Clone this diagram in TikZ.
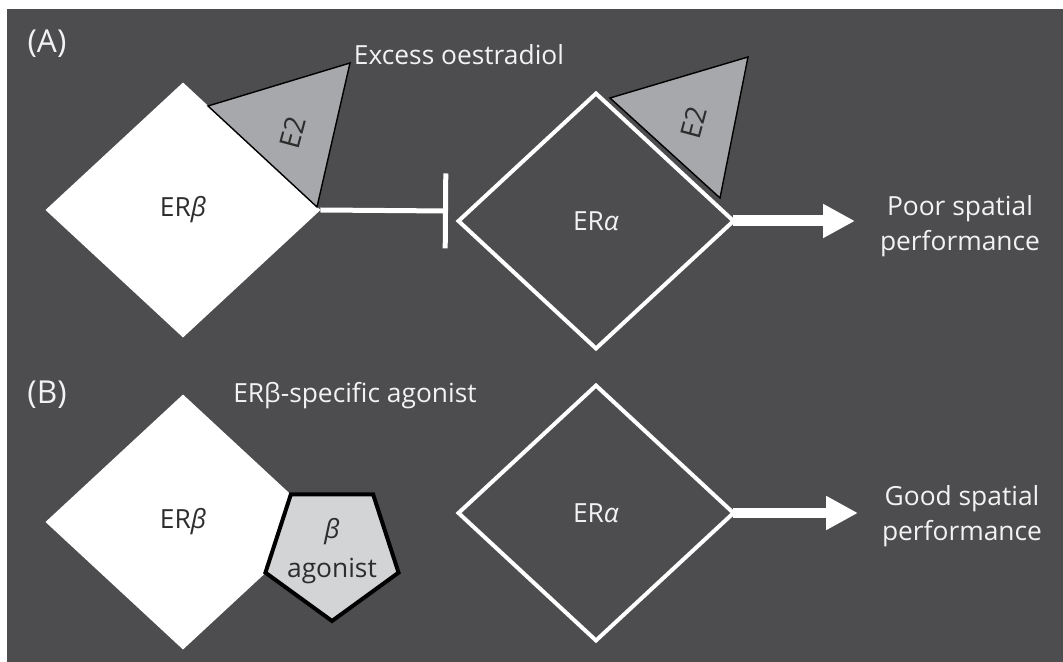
\documentclass[tikz,border=0pt]{standalone}
\usepackage{fontspec}
\setmainfont{Open Sans}
\usetikzlibrary{shapes.geometric,arrows.meta}
\definecolor{panelgrey}{RGB}{77,77,79}
\definecolor{ligandgrey}{RGB}{167,168,171}
\definecolor{agonistgrey}{RGB}{211,212,214}
\definecolor{darkink}{RGB}{45,45,45}
\definecolor{lightink}{RGB}{242,242,242}
\begin{document}
\begin{tikzpicture}[x=0.02cm,y=-0.02cm]
\tikzstyle{every node}+=[inner sep=0pt,outer sep=0pt,font=\fontsize{15}{20}\selectfont,text=lightink]
\tikzstyle{receptor}=[diamond,minimum width=5.5cm,minimum height=5.1cm]
\tikzstyle{ligand}=[fill=ligandgrey,draw=black,line width=0.8pt]
\tikzstyle{hormonetext}=[rotate=75,text=darkink,font=\fontsize{16}{18}\selectfont]
\tikzstyle{agonist}=[regular polygon,regular polygon sides=5,shape border rotate=180,minimum size=2.8cm,draw=black,line width=0.08cm,fill=agonistgrey]
\tikzstyle{inhibit}=[draw=white,line width=0.1cm,-{Bar[width=1.5cm]}]
\tikzstyle{promote}=[draw=white,line width=0.22cm,-{Triangle[length=0.64cm,width=0.64cm]}]
\tikzstyle{panel}=[font=\fontsize{18}{22}\selectfont]
\useasboundingbox (0,0) rectangle (1063,662);
\fill[panelgrey] (7,9) rectangle (1063,662);
% (A) excess oestradiol
\draw (47,44) node[panel] (labA) {(A)};
\draw (459,65) node[anchor=base] (excess) {Excess oestradiol};
\draw (183,210) node[receptor,fill=white,text=darkink] (erbA) {ER\textit{β}};
\draw[ligand] (208,106) -- (350,63) -- (317,207) -- cycle;
\draw (293,133) node[hormonetext] (e2A) {E2};
\draw[ligand] (610,98) -- (748,57) -- (720,198) -- cycle;
\draw (694,123) node[hormonetext] (e2B) {E2};
\draw (596,221) node[receptor,draw=white,line width=0.08cm] (eraA) {ER\textit{α}};
\coordinate (block) at (448,211);
\draw[inhibit] (erbA.east) -- (block);
\coordinate (tipA) at (855,221);
\draw[promote] (eraA.east) -- (tipA);
\draw (960,226) node[align=center] (poor) {Poor spatial\\performance};
% (B) selective agonist
\draw (47,395) node[panel] (labB) {(B)};
\draw (355,403) node[anchor=base] (specific) {ERβ-specific agonist};
\draw (183,522) node[receptor,fill=white,text=darkink] (erbB) {ER\textit{β}};
\draw (332,551) node[agonist] (ago) {};
\draw (ago.center) node[align=center,text=darkink,font=\fontsize{15}{22}\selectfont] (agolabel) {\textit{β}\\agonist};
\draw (596,513) node[receptor,draw=white,line width=0.08cm] (eraB) {ER\textit{α}};
\coordinate (tipB) at (858,513);
\draw[promote] (eraB.east) -- (tipB);
\draw (962,516) node[align=center] (good) {Good spatial\\performance};
\end{tikzpicture}
\end{document}
